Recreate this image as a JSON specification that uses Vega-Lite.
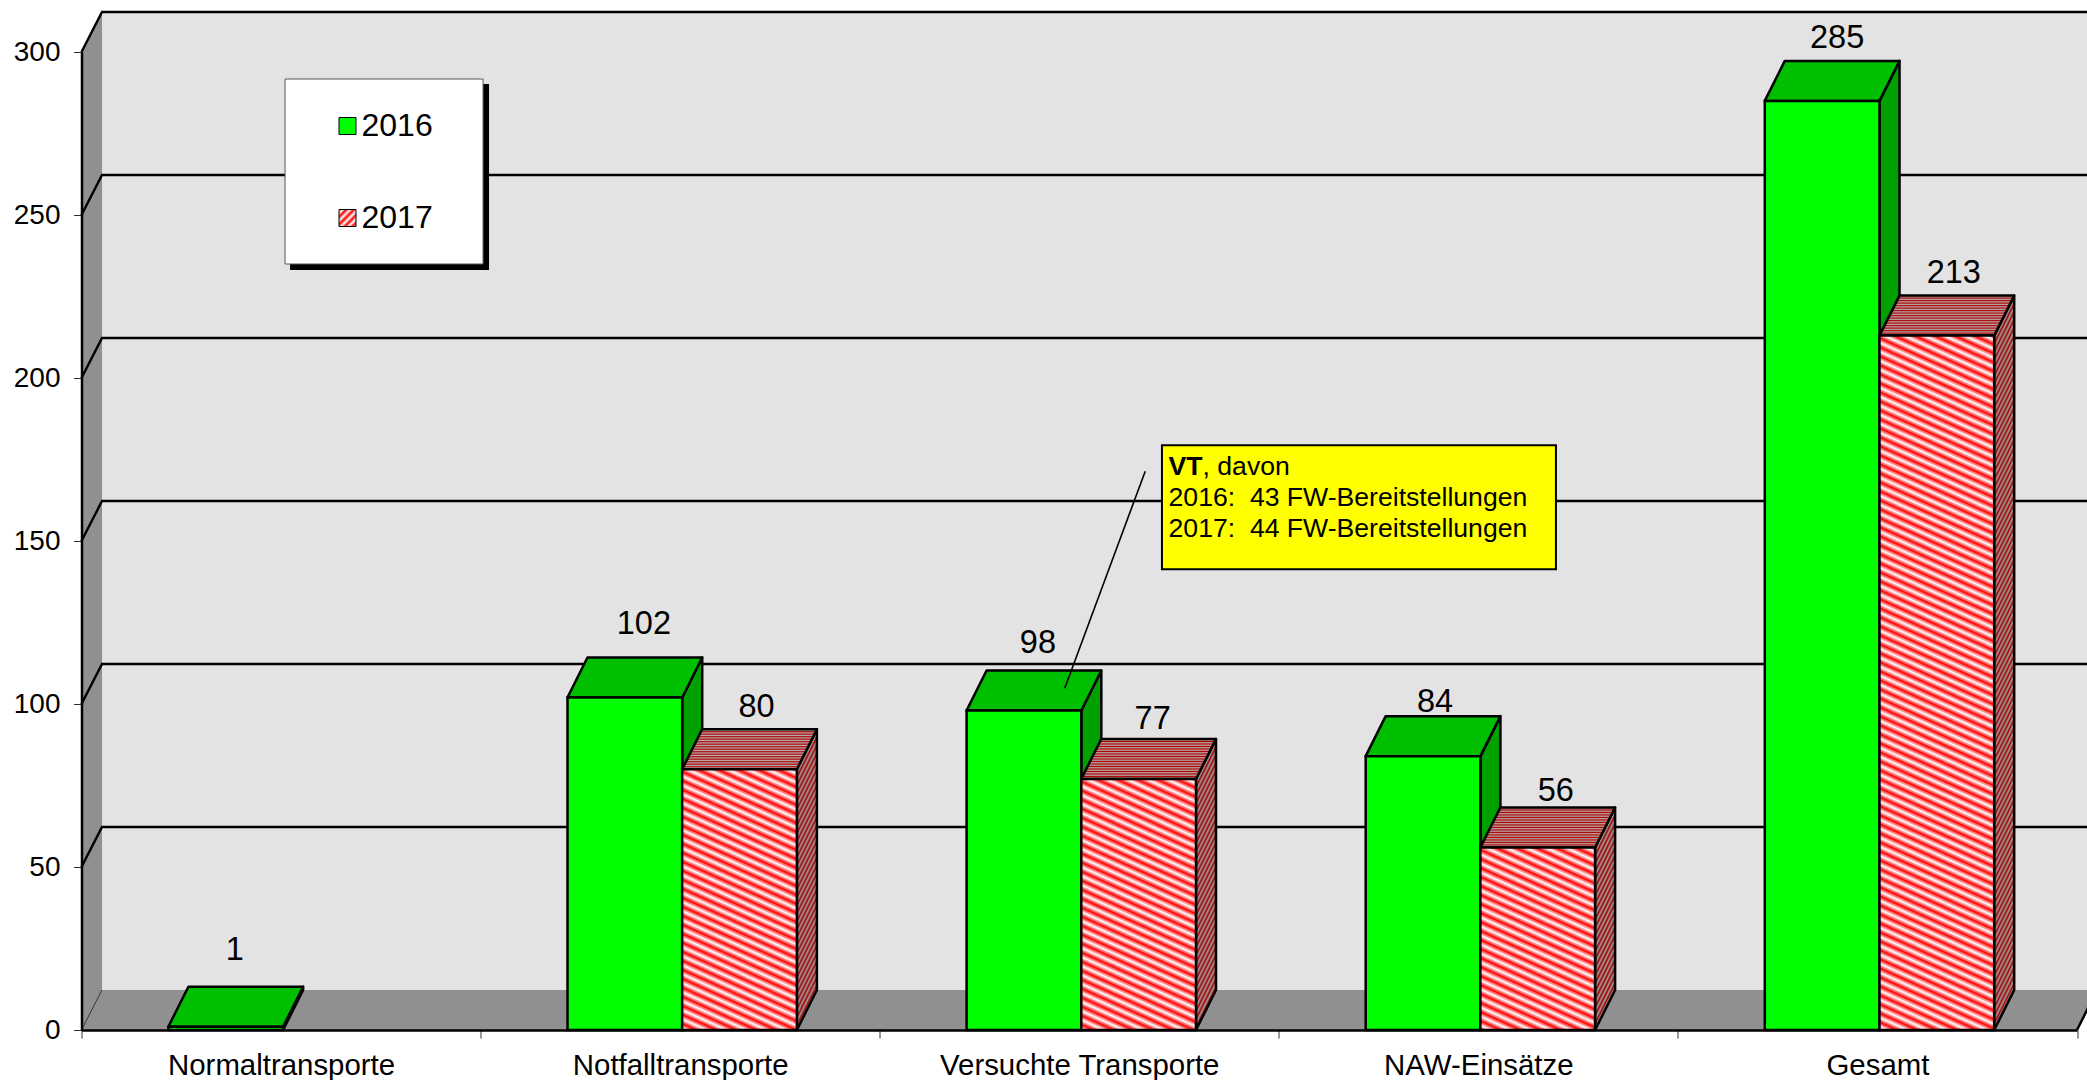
{"$schema":"https://vega.github.io/schema/vega-lite/v6.json","width":1995.5,"height":978,"autosize":{"type":"none"},"padding":{"left":81.5,"top":52,"right":10,"bottom":50},"background":"#ffffff","config":{"view":{"stroke":null},"font":"Liberation Sans","text":{"font":"Liberation Sans"}},
"params":[
{"name":"labelShift","value":{"Normaltransporte2016":[9,-67],"Notfalltransporte2016":[19,-63],"Notfalltransporte2017":[17,-52],"Versuchte Transporte2016":[14,-58],"Versuchte Transporte2017":[14,-50],"NAW-Einsätze2016":[12,-44],"NAW-Einsätze2017":[18,-46],"Gesamt2016":[15,-53],"Gesamt2017":[17,-53]}},
{"name":"hatchStops","value":[{"offset":0,"color":"#f00"},{"offset":0.005,"color":"#fff"},{"offset":0.01,"color":"#f00"},{"offset":0.015,"color":"#fff"},{"offset":0.02,"color":"#f00"},{"offset":0.025,"color":"#fff"},{"offset":0.03,"color":"#f00"},{"offset":0.035,"color":"#fff"},{"offset":0.04,"color":"#f00"},{"offset":0.045,"color":"#fff"},{"offset":0.05,"color":"#f00"},{"offset":0.055,"color":"#fff"},{"offset":0.06,"color":"#f00"},{"offset":0.065,"color":"#fff"},{"offset":0.07,"color":"#f00"},{"offset":0.075,"color":"#fff"},{"offset":0.08,"color":"#f00"},{"offset":0.085,"color":"#fff"},{"offset":0.09,"color":"#f00"},{"offset":0.095,"color":"#fff"},{"offset":0.1,"color":"#f00"},{"offset":0.105,"color":"#fff"},{"offset":0.11,"color":"#f00"},{"offset":0.115,"color":"#fff"},{"offset":0.12,"color":"#f00"},{"offset":0.125,"color":"#fff"},{"offset":0.13,"color":"#f00"},{"offset":0.135,"color":"#fff"},{"offset":0.14,"color":"#f00"},{"offset":0.145,"color":"#fff"},{"offset":0.15,"color":"#f00"},{"offset":0.155,"color":"#fff"},{"offset":0.16,"color":"#f00"},{"offset":0.165,"color":"#fff"},{"offset":0.17,"color":"#f00"},{"offset":0.175,"color":"#fff"},{"offset":0.18,"color":"#f00"},{"offset":0.185,"color":"#fff"},{"offset":0.19,"color":"#f00"},{"offset":0.195,"color":"#fff"},{"offset":0.2,"color":"#f00"},{"offset":0.205,"color":"#fff"},{"offset":0.21,"color":"#f00"},{"offset":0.215,"color":"#fff"},{"offset":0.22,"color":"#f00"},{"offset":0.225,"color":"#fff"},{"offset":0.23,"color":"#f00"},{"offset":0.235,"color":"#fff"},{"offset":0.24,"color":"#f00"},{"offset":0.245,"color":"#fff"},{"offset":0.25,"color":"#f00"},{"offset":0.255,"color":"#fff"},{"offset":0.26,"color":"#f00"},{"offset":0.265,"color":"#fff"},{"offset":0.27,"color":"#f00"},{"offset":0.275,"color":"#fff"},{"offset":0.28,"color":"#f00"},{"offset":0.285,"color":"#fff"},{"offset":0.29,"color":"#f00"},{"offset":0.295,"color":"#fff"},{"offset":0.3,"color":"#f00"},{"offset":0.305,"color":"#fff"},{"offset":0.31,"color":"#f00"},{"offset":0.315,"color":"#fff"},{"offset":0.32,"color":"#f00"},{"offset":0.325,"color":"#fff"},{"offset":0.33,"color":"#f00"},{"offset":0.335,"color":"#fff"},{"offset":0.34,"color":"#f00"},{"offset":0.345,"color":"#fff"},{"offset":0.35,"color":"#f00"},{"offset":0.355,"color":"#fff"},{"offset":0.36,"color":"#f00"},{"offset":0.365,"color":"#fff"},{"offset":0.37,"color":"#f00"},{"offset":0.375,"color":"#fff"},{"offset":0.38,"color":"#f00"},{"offset":0.385,"color":"#fff"},{"offset":0.39,"color":"#f00"},{"offset":0.395,"color":"#fff"},{"offset":0.4,"color":"#f00"},{"offset":0.405,"color":"#fff"},{"offset":0.41,"color":"#f00"},{"offset":0.415,"color":"#fff"},{"offset":0.42,"color":"#f00"},{"offset":0.425,"color":"#fff"},{"offset":0.43,"color":"#f00"},{"offset":0.435,"color":"#fff"},{"offset":0.44,"color":"#f00"},{"offset":0.445,"color":"#fff"},{"offset":0.45,"color":"#f00"},{"offset":0.455,"color":"#fff"},{"offset":0.46,"color":"#f00"},{"offset":0.465,"color":"#fff"},{"offset":0.47,"color":"#f00"},{"offset":0.475,"color":"#fff"},{"offset":0.48,"color":"#f00"},{"offset":0.485,"color":"#fff"},{"offset":0.49,"color":"#f00"},{"offset":0.495,"color":"#fff"},{"offset":0.5,"color":"#f00"},{"offset":0.505,"color":"#fff"},{"offset":0.51,"color":"#f00"},{"offset":0.515,"color":"#fff"},{"offset":0.52,"color":"#f00"},{"offset":0.525,"color":"#fff"},{"offset":0.53,"color":"#f00"},{"offset":0.535,"color":"#fff"},{"offset":0.54,"color":"#f00"},{"offset":0.545,"color":"#fff"},{"offset":0.55,"color":"#f00"},{"offset":0.555,"color":"#fff"},{"offset":0.56,"color":"#f00"},{"offset":0.565,"color":"#fff"},{"offset":0.57,"color":"#f00"},{"offset":0.575,"color":"#fff"},{"offset":0.58,"color":"#f00"},{"offset":0.585,"color":"#fff"},{"offset":0.59,"color":"#f00"},{"offset":0.595,"color":"#fff"},{"offset":0.6,"color":"#f00"},{"offset":0.605,"color":"#fff"},{"offset":0.61,"color":"#f00"},{"offset":0.615,"color":"#fff"},{"offset":0.62,"color":"#f00"},{"offset":0.625,"color":"#fff"},{"offset":0.63,"color":"#f00"},{"offset":0.635,"color":"#fff"},{"offset":0.64,"color":"#f00"},{"offset":0.645,"color":"#fff"},{"offset":0.65,"color":"#f00"},{"offset":0.655,"color":"#fff"},{"offset":0.66,"color":"#f00"},{"offset":0.665,"color":"#fff"},{"offset":0.67,"color":"#f00"},{"offset":0.675,"color":"#fff"},{"offset":0.68,"color":"#f00"},{"offset":0.685,"color":"#fff"},{"offset":0.69,"color":"#f00"},{"offset":0.695,"color":"#fff"},{"offset":0.7,"color":"#f00"},{"offset":0.705,"color":"#fff"},{"offset":0.71,"color":"#f00"},{"offset":0.715,"color":"#fff"},{"offset":0.72,"color":"#f00"},{"offset":0.725,"color":"#fff"},{"offset":0.73,"color":"#f00"},{"offset":0.735,"color":"#fff"},{"offset":0.74,"color":"#f00"},{"offset":0.745,"color":"#fff"},{"offset":0.75,"color":"#f00"},{"offset":0.755,"color":"#fff"},{"offset":0.76,"color":"#f00"},{"offset":0.765,"color":"#fff"},{"offset":0.77,"color":"#f00"},{"offset":0.775,"color":"#fff"},{"offset":0.78,"color":"#f00"},{"offset":0.785,"color":"#fff"},{"offset":0.79,"color":"#f00"},{"offset":0.795,"color":"#fff"},{"offset":0.8,"color":"#f00"},{"offset":0.805,"color":"#fff"},{"offset":0.81,"color":"#f00"},{"offset":0.815,"color":"#fff"},{"offset":0.82,"color":"#f00"},{"offset":0.825,"color":"#fff"},{"offset":0.83,"color":"#f00"},{"offset":0.835,"color":"#fff"},{"offset":0.84,"color":"#f00"},{"offset":0.845,"color":"#fff"},{"offset":0.85,"color":"#f00"},{"offset":0.855,"color":"#fff"},{"offset":0.86,"color":"#f00"},{"offset":0.865,"color":"#fff"},{"offset":0.87,"color":"#f00"},{"offset":0.875,"color":"#fff"},{"offset":0.88,"color":"#f00"},{"offset":0.885,"color":"#fff"},{"offset":0.89,"color":"#f00"},{"offset":0.895,"color":"#fff"},{"offset":0.9,"color":"#f00"},{"offset":0.905,"color":"#fff"},{"offset":0.91,"color":"#f00"},{"offset":0.915,"color":"#fff"},{"offset":0.92,"color":"#f00"},{"offset":0.925,"color":"#fff"},{"offset":0.93,"color":"#f00"},{"offset":0.935,"color":"#fff"},{"offset":0.94,"color":"#f00"},{"offset":0.945,"color":"#fff"},{"offset":0.95,"color":"#f00"},{"offset":0.955,"color":"#fff"},{"offset":0.96,"color":"#f00"},{"offset":0.965,"color":"#fff"},{"offset":0.97,"color":"#f00"},{"offset":0.975,"color":"#fff"},{"offset":0.98,"color":"#f00"},{"offset":0.985,"color":"#fff"},{"offset":0.99,"color":"#f00"},{"offset":0.995,"color":"#fff"},{"offset":1,"color":"#f00"}]}
],
"datasets":{
"bars":[{"category":"Normaltransporte","year":"2016","value":1},{"category":"Notfalltransporte","year":"2016","value":102},{"category":"Notfalltransporte","year":"2017","value":80},{"category":"Versuchte Transporte","year":"2016","value":98},{"category":"Versuchte Transporte","year":"2017","value":77},{"category":"NAW-Einsätze","year":"2016","value":84},{"category":"NAW-Einsätze","year":"2017","value":56},{"category":"Gesamt","year":"2016","value":285},{"category":"Gesamt","year":"2017","value":213}],
"origin":[{"category":"Normaltransporte","value":0}],
"gridValues":[{"category":"Normaltransporte","value":50},{"category":"Normaltransporte","value":100},{"category":"Normaltransporte","value":150},{"category":"Normaltransporte","value":200},{"category":"Normaltransporte","value":250},{"category":"Normaltransporte","value":300}],
"note":[{"category":"Versuchte Transporte","value":179.4}],
"noteBold":[{"category":"Versuchte Transporte","value":170.2,"line":"VT"}],
"noteLines":[{"category":"Versuchte Transporte","value":170.2,"line":", davon","shift":123.3},{"category":"Versuchte Transporte","value":160.7,"line":"2016:\u00a0\u00a043 FW-Bereitstellungen","shift":89.3},{"category":"Versuchte Transporte","value":151.2,"line":"2017:\u00a0\u00a044 FW-Bereitstellungen","shift":89.3}]
},
"layer":[
{"data":{"name":"origin"},"mark":{"type":"point","filled":true,"opacity":1,"size":4,"fill":"#e3e3e3","strokeWidth":0,"shape":"M-179.05,-1018 L1829,-1018 L1829,-40 L-179.05,-40 Z"},"encoding":{"x":{"field":"category","type":"nominal","title":null,"scale":{"type":"band","domain":["Normaltransporte","Notfalltransporte","Versuchte Transporte","NAW-Einsätze","Gesamt"],"paddingInner":0,"paddingOuter":0},"axis":{"title":null,"zindex":1,"tickBand":"extent","labelAngle":0,"labelFontSize":29.4,"labelFont":"Liberation Sans","labelColor":"#000","labelPadding":13,"tickSize":8,"tickColor":"#333","tickWidth":1,"domainColor":"#000","domainWidth":2.5,"labelLimit":400}},"y":{"field":"value","type":"quantitative","title":null,"scale":{"domain":[0,300],"nice":false,"zero":true},"axis":{"title":null,"zindex":1,"values":[0,50,100,150,200,250,300],"grid":false,"labelFontSize":28,"labelFont":"Liberation Sans","labelColor":"#000","labelPadding":13.5,"tickSize":8,"tickColor":"#333","tickWidth":1,"domainColor":"#000","domainWidth":2.5}}}},
{"data":{"name":"origin"},"mark":{"type":"point","filled":true,"opacity":1,"size":4,"fill":"#909090","strokeWidth":0,"shape":"M-199.55,0 L-179.05,-40 L-179.05,-1018 L-199.55,-978 Z"},"encoding":{"x":{"field":"category","type":"nominal"},"y":{"field":"value","type":"quantitative"}}},
{"data":{"name":"origin"},"mark":{"type":"point","filled":true,"opacity":1,"size":4,"fill":"#909090","strokeWidth":0,"shape":"M-199.55,0 L1795.95,0 L1816,-40 L-179.05,-40 Z"},"encoding":{"x":{"field":"category","type":"nominal"},"y":{"field":"value","type":"quantitative"}}},
{"data":{"name":"origin"},"mark":{"type":"point","filled":false,"opacity":1,"size":4,"stroke":"#333333","strokeWidth":1,"shape":"M-199.55,0 L-179.05,-40"},"encoding":{"x":{"field":"category","type":"nominal"},"y":{"field":"value","type":"quantitative"}}},
{"data":{"name":"origin"},"mark":{"type":"point","filled":false,"opacity":1,"size":4,"stroke":"#000000","strokeWidth":2.5,"shape":"M1795.95,0 L1816,-40"},"encoding":{"x":{"field":"category","type":"nominal"},"y":{"field":"value","type":"quantitative"}}},
{"data":{"name":"gridValues"},"mark":{"type":"point","filled":false,"opacity":1,"size":4,"stroke":"#000000","strokeWidth":2.4,"shape":"M-199.55,0 L-179.05,-40 L1829,-40"},"encoding":{"x":{"field":"category","type":"nominal"},"y":{"field":"value","type":"quantitative"}}},
{"data":{"name":"origin"},"mark":{"type":"point","filled":true,"opacity":1,"size":4,"fill":"#000000","strokeWidth":0,"shape":"M9,-946 L208,-946 L208,-760 L9,-760 Z"},"encoding":{"x":{"field":"category","type":"nominal"},"y":{"field":"value","type":"quantitative"}}},
{"data":{"name":"origin"},"mark":{"type":"point","filled":true,"opacity":1,"size":4,"fill":"#ffffff","stroke":"#555555","strokeWidth":1,"shape":"M4,-951 L202,-951 L202,-766 L4,-766 Z"},"encoding":{"x":{"field":"category","type":"nominal"},"y":{"field":"value","type":"quantitative"}}},

{"data":{"name":"bars"},"transform":[{"filter":"datum.year === '2016'"}],"mark":{"type":"point","filled":true,"opacity":1,"size":4,"fill":"#00a000","stroke":"#000","strokeWidth":2.5,"strokeJoin":"round","shape":{"expr":"'M57.37,0 L77.37,-40 L77.37,'+(3.26*datum.value-40)+' L57.37,'+(3.26*datum.value)+' Z'"}},"encoding":{"x":{"field":"category","type":"nominal"},"xOffset":{"field":"year","type":"nominal","scale":{"domain":["2016","2017"],"paddingInner":0,"paddingOuter":0.74,"align":0.512}},"y":{"field":"value","type":"quantitative"}}},
{"data":{"name":"bars"},"transform":[{"filter":"datum.year === '2016'"}],"mark":{"type":"point","filled":true,"opacity":1,"size":4,"fill":"#00bf00","stroke":"#000","strokeWidth":2.5,"strokeJoin":"round","shape":"M-57.37,0 L-37.37,-40 L77.37,-40 L57.37,0 Z"},"encoding":{"x":{"field":"category","type":"nominal"},"xOffset":{"field":"year","type":"nominal"},"y":{"field":"value","type":"quantitative"}}},
{"data":{"name":"bars"},"transform":[{"filter":"datum.year === '2016'"}],"mark":{"type":"bar","fill":"#00ff00","stroke":"#000","strokeWidth":2.5},"encoding":{"x":{"field":"category","type":"nominal"},"xOffset":{"field":"year","type":"nominal"},"y":{"field":"value","type":"quantitative"}}},

{"data":{"name":"bars"},"transform":[{"filter":"datum.year === '2017'"}],"mark":{"type":"point","filled":true,"opacity":1,"size":4,"strokeWidth":0,"fill":{"expr":"{gradient:'linear',x1:0,y1:0,x2:0.05/(0.0025+pow(0.004075*datum.value+0.05,2)),y2:(0.004075*datum.value+0.05)/(0.0025+pow(0.004075*datum.value+0.05,2)),stops:hatchStops}"},"shape":{"expr":"'M57.37,0 L77.37,-40 L77.37,'+(3.26*datum.value-40)+' L57.37,'+(3.26*datum.value)+' Z'"}},"encoding":{"x":{"field":"category","type":"nominal"},"xOffset":{"field":"year","type":"nominal"},"y":{"field":"value","type":"quantitative"}}},
{"data":{"name":"bars"},"transform":[{"filter":"datum.year === '2017'"}],"mark":{"type":"point","filled":true,"opacity":1,"size":4,"fill":"#000","fillOpacity":0.37,"stroke":"#000","strokeWidth":2.5,"strokeJoin":"round","shape":{"expr":"'M57.37,0 L77.37,-40 L77.37,'+(3.26*datum.value-40)+' L57.37,'+(3.26*datum.value)+' Z'"}},"encoding":{"x":{"field":"category","type":"nominal"},"xOffset":{"field":"year","type":"nominal"},"y":{"field":"value","type":"quantitative"}}},
{"data":{"name":"bars"},"transform":[{"filter":"datum.year === '2017'"}],"mark":{"type":"point","filled":true,"opacity":1,"size":4,"strokeWidth":0,"fill":{"expr":"{gradient:'linear',x1:0,y1:0,x2:0,y2:6.25,stops:hatchStops}"},"shape":"M-57.37,0 L-37.37,-40 L77.37,-40 L57.37,0 Z"},"encoding":{"x":{"field":"category","type":"nominal"},"xOffset":{"field":"year","type":"nominal"},"y":{"field":"value","type":"quantitative"}}},
{"data":{"name":"bars"},"transform":[{"filter":"datum.year === '2017'"}],"mark":{"type":"point","filled":true,"opacity":1,"size":4,"fill":"#000","fillOpacity":0.3,"stroke":"#000","strokeWidth":2.5,"strokeJoin":"round","shape":"M-57.37,0 L-37.37,-40 L77.37,-40 L57.37,0 Z"},"encoding":{"x":{"field":"category","type":"nominal"},"xOffset":{"field":"year","type":"nominal"},"y":{"field":"value","type":"quantitative"}}},
{"data":{"name":"bars"},"transform":[{"filter":"datum.year === '2017'"}],"mark":{"type":"bar","stroke":"#000","strokeWidth":2.5,"fill":{"expr":"{gradient:'linear',x1:1,y1:0,x2:1-0.05735/(0.003289+pow(0.003622*datum.value,2)),y2:0.003622*datum.value/(0.003289+pow(0.003622*datum.value,2)),stops:hatchStops}"}},"encoding":{"x":{"field":"category","type":"nominal"},"xOffset":{"field":"year","type":"nominal"},"y":{"field":"value","type":"quantitative"}}},

{"data":{"name":"bars"},"mark":{"type":"text","font":"Liberation Sans","fontSize":32.5,"color":"#000","baseline":"alphabetic","align":"center","dx":{"expr":"labelShift[datum.category+datum.year][0]"},"dy":{"expr":"labelShift[datum.category+datum.year][1]"}},"encoding":{"x":{"field":"category","type":"nominal"},"xOffset":{"field":"year","type":"nominal"},"y":{"field":"value","type":"quantitative"},"text":{"field":"value","type":"quantitative"}}},

{"data":{"name":"note"},"mark":{"type":"point","filled":false,"opacity":1,"size":4,"stroke":"#000","strokeWidth":1.6,"shape":"M66,26 L-14.5,243"},"encoding":{"x":{"field":"category","type":"nominal"},"y":{"field":"value","type":"quantitative"}}},
{"data":{"name":"note"},"mark":{"type":"point","filled":true,"opacity":1,"size":4,"fill":"#ffff00","stroke":"#000","strokeWidth":2,"shape":"M82.7,0 L476.7,0 L476.7,124 L82.7,124 Z"},"encoding":{"x":{"field":"category","type":"nominal"},"y":{"field":"value","type":"quantitative"}}},
{"data":{"name":"noteBold"},"mark":{"type":"text","font":"Liberation Sans","fontSize":26.6,"fontWeight":"bold","color":"#000","baseline":"alphabetic","align":"left","dx":89.3},"encoding":{"x":{"field":"category","type":"nominal"},"y":{"field":"value","type":"quantitative"},"text":{"field":"line","type":"nominal"}}},
{"data":{"name":"noteLines"},"mark":{"type":"text","font":"Liberation Sans","fontSize":26.6,"color":"#000","baseline":"alphabetic","align":"left","dx":{"expr":"datum.shift"}},"encoding":{"x":{"field":"category","type":"nominal"},"y":{"field":"value","type":"quantitative"},"text":{"field":"line","type":"nominal"}}},

{"data":{"name":"bars"},"mark":{"type":"square","opacity":1,"size":0,"strokeWidth":0},"encoding":{"x":{"field":"category","type":"nominal"},"y":{"field":"value","type":"quantitative"},"fill":{"field":"year","type":"nominal","scale":{"domain":["2016","2017"],"range":["#00ff00",{"expr":"{gradient:'linear',x1:0,y1:0,x2:1,y2:1,stops:[{offset:0,color:'#f00'},{offset:0.11,color:'#fff'},{offset:0.22,color:'#f00'},{offset:0.33,color:'#fff'},{offset:0.44,color:'#f00'},{offset:0.56,color:'#fff'},{offset:0.67,color:'#f00'},{offset:0.78,color:'#fff'},{offset:0.89,color:'#f00'},{offset:1,color:'#fff'}]}"}]},"legend":{"orient":"none","legendX":250,"legendY":58,"title":null,"symbolType":"square","symbolSize":289,"symbolStrokeColor":"#000","symbolStrokeWidth":1,"symbolOpacity":1,"labelFontSize":32,"labelFont":"Liberation Sans","labelColor":"#000","labelOffset":-2,"rowPadding":60,"padding":0}}}}
]}
